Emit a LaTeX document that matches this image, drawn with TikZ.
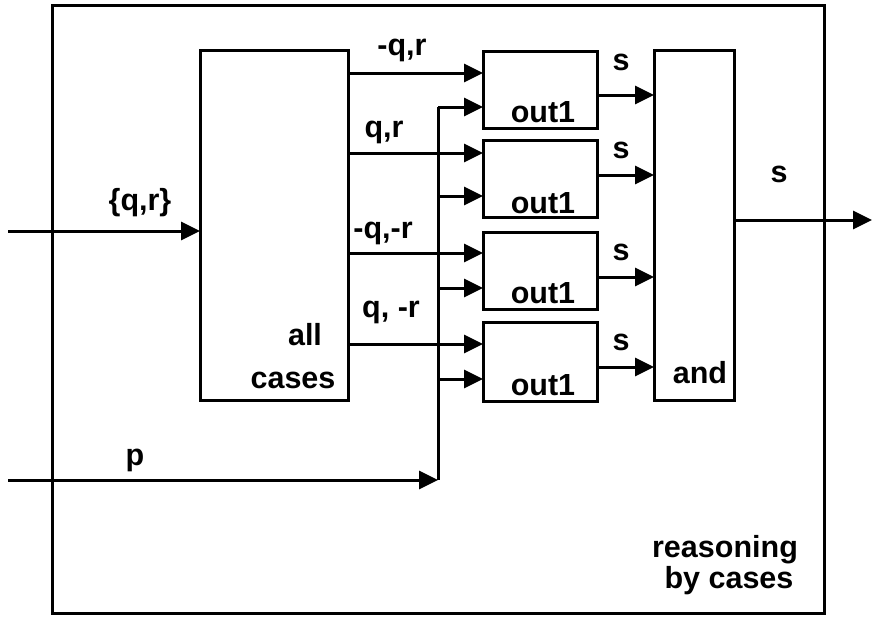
\documentclass[tikz,border=0pt]{standalone}
\usepackage{fontspec}
\setmainfont{Liberation Sans}
\usetikzlibrary{arrows.meta}
\begin{document}
\begin{tikzpicture}[x=1pt,y=-1pt,
  line width=3pt,
  box/.style={draw,rectangle,inner sep=0pt,outer sep=0pt},
  arr/.style={-{Triangle[length=19pt,width=18pt]}},
  lbl/.style={anchor=base,inner sep=0pt,font=\fontsize{30.5}{33}\selectfont\bfseries}]
\useasboundingbox (0,0) rectangle (872,619);
% outer frame
\node[box,minimum width=772pt,minimum height=608pt] (frame) at (438,309) {};
% boxes
\node[box,minimum width=148pt,minimum height=350pt] (ac) at (274,225) {};
\node[box,minimum width=114pt,minimum height=77pt] (o1) at (540,89.5) {};
\node[box,minimum width=114pt,minimum height=77pt] (o2) at (540,179) {};
\node[box,minimum width=114pt,minimum height=77pt] (o3) at (540,271) {};
\node[box,minimum width=114pt,minimum height=79pt] (o4) at (540,362) {};
\node[box,minimum width=80pt,minimum height=350pt] (and) at (694,225) {};
% level coordinates
\coordinate (qin) at (8,231);
\coordinate (pin) at (8,480);
\coordinate (pj) at (438,480);
\coordinate (ptop) at (438,107);
\coordinate (out) at (872,220);
\coordinate (a1) at (0,73);
\coordinate (a2) at (0,153);
\coordinate (a3) at (0,253);
\coordinate (a4) at (0,344);
\coordinate (b1) at (0,107);
\coordinate (b2) at (0,196);
\coordinate (b3) at (0,288);
\coordinate (b4) at (0,379);
\coordinate (c1) at (0,95);
\coordinate (c2) at (0,175);
\coordinate (c3) at (0,277);
\coordinate (c4) at (0,367);
% input
\draw[arr] (qin) -- (ac.west |- qin);
% cases to out1
\draw[arr] (ac.east |- a1) -- (o1.west |- a1);
\draw[arr] (ac.east |- a2) -- (o2.west |- a2);
\draw[arr] (ac.east |- a3) -- (o3.west |- a3);
\draw[arr] (ac.east |- a4) -- (o4.west |- a4);
% p line
\draw[arr] (pin) -- (pj);
\draw (pj) -- (ptop);
\draw[arr] (ptop) -- (o1.west |- b1);
\draw[arr] (pj |- b2) -- (o2.west |- b2);
\draw[arr] (pj |- b3) -- (o3.west |- b3);
\draw[arr] (pj |- b4) -- (o4.west |- b4);
% out1 to and
\draw[arr] (o1.east |- c1) -- (and.west |- c1);
\draw[arr] (o2.east |- c2) -- (and.west |- c2);
\draw[arr] (o3.east |- c3) -- (and.west |- c3);
\draw[arr] (o4.east |- c4) -- (and.west |- c4);
% output
\draw[arr] (and.east |- out) -- (out);
% labels
\node[lbl] (lqr) at (140,210) {\{q,r\}};
\node[lbl] (lp) at (135,465) {p};
\node[lbl] (l1) at (402,55) {-q,r};
\node[lbl] (l2) at (384,137) {q,r};
\node[lbl] (l3) at (383,238) {-q,-r};
\node[lbl] (l4) at (391,317) {q, -r};
\node[lbl] (lall) at (305,345) {all};
\node[lbl] (lcases) at (293,388) {cases};
\node[lbl] (t1) at (543,122) {out1};
\node[lbl] (t2) at (543,213) {out1};
\node[lbl] (t3) at (543,303) {out1};
\node[lbl] (t4) at (543,395) {out1};
\node[lbl] (s1) at (621,70) {s};
\node[lbl] (s2) at (621,158) {s};
\node[lbl] (s3) at (621,260) {s};
\node[lbl] (s4) at (621,350) {s};
\node[lbl] (sout) at (779,182) {s};
\node[lbl] (land) at (700,383) {and};
\node[lbl] (r1) at (725,557) {reasoning};
\node[lbl] (r2) at (729,588) {by cases};
\end{tikzpicture}
\end{document}
